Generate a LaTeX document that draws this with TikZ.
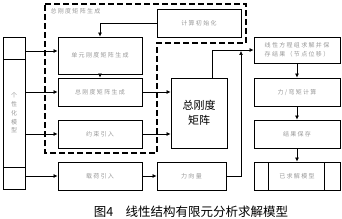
\documentclass[tikz,border=0pt]{standalone}
\usepackage{fontspec}
\setmainfont{Noto Sans CJK SC}
\newfontfamily\cjk{Noto Sans CJK SC}
\newfontfamily\cjkls[LetterSpace=22]{Noto Sans CJK SC}
\usetikzlibrary{arrows.meta,calc}
\tikzset{
  bx/.style={draw,line width=0.8pt,rectangle,inner sep=0pt,minimum width=84pt,minimum height=28pt,font=\cjkls\fontsize{6}{8}\selectfont,text=black!40,align=center},
  arr/.style={line width=0.7pt,-{Latex[length=4pt,width=4pt]}},
  ln/.style={line width=0.7pt},
  dsh/.style={line width=1.8pt,dash pattern=on 6pt off 3pt}
}
\begin{document}
\begin{tikzpicture}[x=1pt,y=-1pt]
\useasboundingbox (0,0) rectangle (342,219);
% dashed group
\draw[dsh] (45,4) -- (246,4) -- (246,43) -- (157,43) -- (157,153) -- (45,153) -- cycle;
\node[anchor=west,font=\cjkls\fontsize{6}{8}\selectfont,text=black!40] (glabel) at (47,11) {总刚度矩阵生成};
% left box
\node[bx,minimum width=22pt,minimum height=152pt] (L) at (14,113) {};
\draw[ln] (3,59) -- (25,59);
\draw[ln] (3,167) -- (25,167);
\node[font=\cjk\fontsize{6}{8.8}\selectfont,text=black!40,align=center] (Lt) at (14,113) {个\\性\\化\\模\\型};
% column 2
\node[bx,minimum height=37pt] (B1) at (100,55.5) {单元刚度矩阵生成};
\node[bx] (B2) at (100,92) {总刚度矩阵生成};
\node[bx] (B3) at (100,134) {约束引入};
\node[bx] (B4) at (100,176) {载荷引入};
\node[bx] (I) at (199,23) {计算初始化};
\node[bx,minimum width=56pt,minimum height=70pt,text=black,font=\cjk\fontsize{11}{15}\selectfont] (K) at (199,113) {总刚度\\矩阵};
\node[bx,minimum width=69pt] (F) at (191.5,176) {力向量};
% column 3
\node[bx,minimum width=86pt,minimum height=26pt,font=\cjkls\fontsize{6}{9}\selectfont] (S) at (297,50) {线性方程组求解并保\\存结果（节点位移）};
\node[bx,minimum width=86pt] (M) at (297,92) {力/弯矩计算};
\node[bx,minimum width=86pt] (R) at (297,134) {结果保存};
\node[bx,minimum width=86pt] (D) at (297,176) {已求解模型};
\draw[ln] (268,162) -- (268,190);
\draw[ln] (324,162) -- (324,190);
% arrows from left box
\coordinate (a1) at (25,51);
\draw[arr] (a1) -- (a1 -| B1.west);
\draw[arr] (L.east |- B2.west) -- (B2.west);
\draw[arr] (L.east |- B3.west) -- (B3.west);
\draw[arr] (L.east |- B4.west) -- (B4.west);
% inner connections
\draw[arr] (I.west) -| (B1.north);
\draw[arr] (B1.south) -- (B2.north);
\draw[arr] (B2.east) -- (B2.east -| K.west);
\draw[arr] (B3.east) -- (B3.east -| K.west);
\draw[arr] (B4.east) -- (F.west);
\draw[arr] ([xshift=13pt]K.north) |- (S.west);
\coordinate (j) at (241,51);
\draw[arr] (F.east) -| (j);
\draw[arr] (S.south) -- (M.north);
\draw[arr] (M.south) -- (R.north);
\draw[arr] (R.south) -- (D.north);
% caption
\node[font=\cjk\fontsize{12.5}{14}\selectfont] (cap) at (191,212) {图4\hspace{1em}线性结构有限元分析求解模型};
\end{tikzpicture}
\end{document}
